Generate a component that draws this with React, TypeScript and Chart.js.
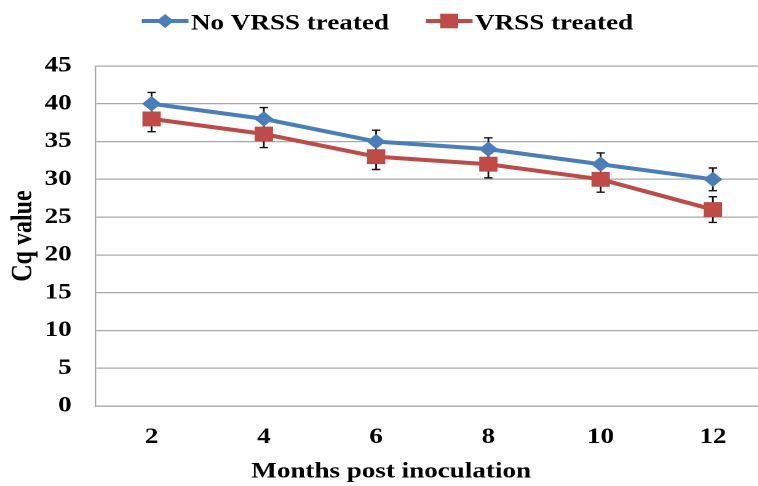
import React, { useEffect, useRef } from 'react';
import { Chart, registerables } from 'chart.js';

Chart.register(...registerables);

// ---- data ----
const months = ['2', '4', '6', '8', '10', '12'];
const noVrssTreated = [40, 38, 35, 34, 32, 30];
const vrssTreated = [38, 36, 33, 32, 30, 26];
const noVrssErr = [1.5, 1.5, 1.5, 1.5, 1.5, 1.5];
const vrssErr = [1.7, 1.8, 1.7, 1.8, 1.7, 1.7];
const seriesLabels = ['No VRSS treated', 'VRSS treated'];
const xTitle = 'Months post inoculation';
const yTitle = 'Cq value';
const yMin = 0;
const yMax = 45;
const yStep = 5;

// ---- styling ----
const SX = 1.23; // horizontal stretch of the reference picture
const FONT = "'Liberation Serif', 'Times New Roman', serif";
const BLUE = '#4A7EBB';
const RED = '#BE4B48';
const GRID = '#A8A8A8';

const errorLists = [noVrssErr, vrssErr];

const errorBars = {
  id: 'errorBars',
  beforeDatasetsDraw(chart: any) {
    const { ctx } = chart;
    const y = chart.scales.y;
    chart.data.datasets.forEach((ds: any, i: number) => {
      const meta = chart.getDatasetMeta(i);
      const errs = errorLists[i];
      ctx.save();
      ctx.strokeStyle = '#111';
      ctx.lineWidth = 1.4;
      meta.data.forEach((pt: any, j: number) => {
        const v = ds.data[j];
        const e = errs[j];
        const top = y.getPixelForValue(v + e);
        const bot = y.getPixelForValue(v - e);
        const x = pt.x;
        const cw = 3.4;
        ctx.beginPath();
        ctx.moveTo(x, top);
        ctx.lineTo(x, bot);
        ctx.moveTo(x - cw, top);
        ctx.lineTo(x + cw, top);
        ctx.moveTo(x - cw, bot);
        ctx.lineTo(x + cw, bot);
        ctx.stroke();
      });
      ctx.restore();
    });
  },
};

const LEGEND_CX = 315;

const lineLegend = {
  id: 'lineLegend',
  afterDraw(chart: any) {
    const { ctx } = chart;
    ctx.save();
    ctx.font = `bold 22px ${FONT}`;
    const sw = 38;
    const gapT = 2;
    const gapItem = 30;
    const items = chart.data.datasets.map((ds: any) => ({
      ds,
      tw: ctx.measureText(ds.label).width,
    }));
    const total =
      items.reduce((s: number, it: any) => s + sw + gapT + it.tw, 0) +
      gapItem * (items.length - 1);
    let x = LEGEND_CX - total / 2;
    const cy = 21;
    items.forEach(({ ds, tw }: any) => {
      ctx.strokeStyle = ds.borderColor;
      ctx.lineWidth = 4;
      ctx.beginPath();
      ctx.moveTo(x, cy);
      ctx.lineTo(x + sw, cy);
      ctx.stroke();
      const mx = x + sw / 2;
      ctx.fillStyle = ds.backgroundColor;
      ctx.beginPath();
      if (ds.pointStyle === 'rectRot') {
        const r = 7;
        ctx.moveTo(mx, cy - r);
        ctx.lineTo(mx + r, cy);
        ctx.lineTo(mx, cy + r);
        ctx.lineTo(mx - r, cy);
        ctx.closePath();
      } else {
        const h = 7.3;
        ctx.rect(mx - h, cy - h, 2 * h, 2 * h);
      }
      ctx.fill();
      ctx.fillStyle = '#000';
      ctx.textAlign = 'left';
      ctx.textBaseline = 'alphabetic';
      ctx.fillText(ds.label, x + sw + gapT, 29.5);
      x += sw + gapT + tw + gapItem;
    });
    ctx.restore();
  },
};

export default function App() {
  const canvasRef = useRef<HTMLCanvasElement | null>(null);

  useEffect(() => {
    if (!canvasRef.current) return;
    const chart = new Chart(canvasRef.current, {
      type: 'line',
      data: {
        labels: months,
        datasets: [
          {
            label: seriesLabels[0],
            data: noVrssTreated,
            borderColor: BLUE,
            backgroundColor: BLUE,
            borderWidth: 4,
            pointStyle: 'rectRot',
            pointRadius: 7,
            pointBorderWidth: 1,
            pointBackgroundColor: BLUE,
            pointBorderColor: BLUE,
            tension: 0,
            fill: false,
          },
          {
            label: seriesLabels[1],
            data: vrssTreated,
            borderColor: RED,
            backgroundColor: RED,
            borderWidth: 4,
            pointStyle: 'rect',
            pointRadius: 9.8,
            pointBorderWidth: 1,
            pointBackgroundColor: RED,
            pointBorderColor: RED,
            tension: 0,
            fill: false,
          },
        ],
      },
      options: {
        animation: false,
        responsive: true,
        maintainAspectRatio: false,
        devicePixelRatio: 2,
        layout: { padding: { top: 66, right: 0, left: 0, bottom: 0 } },
        plugins: {
          legend: { display: false },
          tooltip: { enabled: false },
          title: {
            display: true,
            position: 'bottom',
            text: xTitle,
            color: '#000',
            font: { family: FONT, size: 22, weight: 'bold' },
            padding: { top: 4, bottom: 1 },
          },
        },
        scales: {
          x: {
            type: 'category',
            offset: true,
            grid: { display: false, drawTicks: false },
            border: { display: true, color: GRID, width: 1.2 },
            ticks: {
              color: '#000',
              padding: 18,
              font: { family: FONT, size: 22, weight: 'bold' },
            },
            afterFit: (scale: any) => {
              scale.height = 48.6;
            },
          },
          y: {
            min: yMin,
            max: yMax,
            ticks: {
              stepSize: yStep,
              color: '#000',
              padding: 19.3,
              font: { family: FONT, size: 22, weight: 'bold' },
            },
            grid: { color: GRID, lineWidth: 1.2, drawTicks: false },
            border: { display: true, color: GRID, width: 1.2 },
            title: {
              display: true,
              text: yTitle,
              color: '#000',
              font: { family: FONT, size: 24, weight: 'bold' },
              padding: { top: 5, bottom: 0 },
            },
            afterFit: (scale: any) => {
              scale.width = 77.6;
            },
          },
        },
      },
      plugins: [errorBars, lineLegend],
    } as any);
    return () => chart.destroy();
  }, []);

  return (
    <div
      style={{
        position: 'fixed',
        left: 0,
        top: 0,
        width: 758,
        height: 486,
        overflow: 'hidden',
        background: '#fff',
      }}
    >
      <div
        style={{
          position: 'relative',
          width: 636,
          height: 486,
          transform: `scaleX(${SX})`,
          transformOrigin: '0 0',
        }}
      >
        <canvas ref={canvasRef} />
      </div>
    </div>
  );
}
